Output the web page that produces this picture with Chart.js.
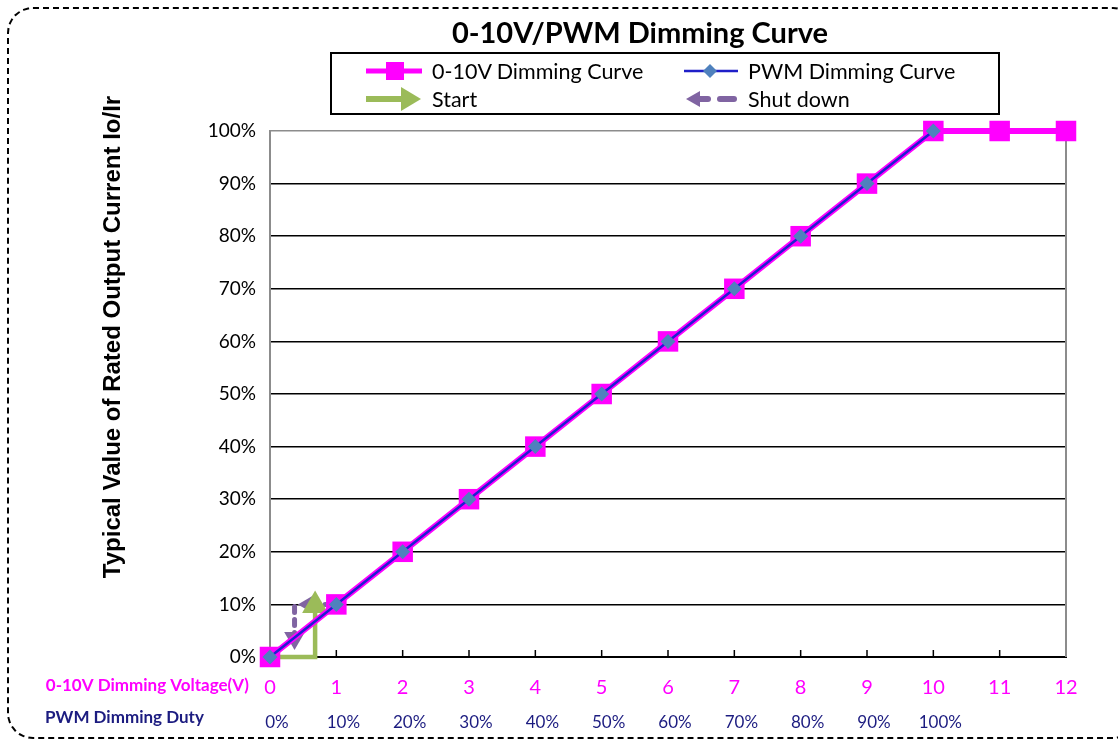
<!DOCTYPE html>
<html>
<head>
<meta charset="utf-8">
<script src="https://cdn.jsdelivr.net/npm/chart.js@4"></script>
<style>
  body { margin: 0; overflow: hidden; background: #fff; font-family: Lato, sans-serif; }
  #wrap { position: relative; width: 1118px; height: 740px; overflow: hidden; }
  #frame { position: absolute; left: 7px; top: 7px; width: 1128px; height: 728px;
           border: 2px dashed #000; border-radius: 26px; }
  #title { position: absolute; left: 340px; width: 600px; top: 14px; text-align: center;
           font: bold 29px Lato, sans-serif; color: #000; }
  #legend { position: absolute; left: 330px; top: 52px; width: 666px; height: 59px;
            border: 2px solid #000; font: 21.5px Lato, sans-serif; color: #000; }
  .item { position: absolute; display: flex; align-items: center; height: 28px; }
  .item svg { margin-right: 8px; }
  canvas { position: absolute; left: 0; top: 0; }
</style>
</head>
<body>
<div id="wrap">
  <canvas id="myCanvas" width="1118" height="740"></canvas>
  <div id="frame"></div>
  <div id="title">0-10V/PWM Dimming Curve</div>
  <div id="legend">
    <div class="item" style="left:32px;top:3px">
      <svg width="60" height="24"><line x1="2" y1="12" x2="58" y2="12" stroke="#FF00FF" stroke-width="5"/><rect x="22" y="3" width="18" height="18" fill="#FF00FF"/></svg>
      <span>0-10V Dimming Curve</span>
    </div>
    <div class="item" style="left:350px;top:3px">
      <svg width="58" height="24"><line x1="2" y1="12" x2="56" y2="12" stroke="#1F1FC8" stroke-width="2.5"/><polygon points="28,5 35,12 28,19 21,12" fill="#4F81BD"/></svg>
      <span>PWM Dimming Curve</span>
    </div>
    <div class="item" style="left:32px;top:31px">
      <svg width="60" height="26"><line x1="2" y1="13" x2="40" y2="13" stroke="#9BBB59" stroke-width="6"/><polygon points="37,1 57,13 37,25" fill="#9BBB59"/></svg>
      <span>Start</span>
    </div>
    <div class="item" style="left:350px;top:31px">
      <svg width="58" height="24"><polygon points="4,12 18,4 18,20" fill="#8064A2"/><line x1="17" y1="12" x2="26" y2="12" stroke="#8064A2" stroke-width="6" stroke-linecap="round"/><line x1="38" y1="12" x2="52" y2="12" stroke="#8064A2" stroke-width="6" stroke-linecap="round"/></svg>
      <span>Shut down</span>
    </div>
  </div>
</div>
<script>
// data
let voltage = [0, 1, 2, 3, 4, 5, 6, 7, 8, 9, 10, 11, 12]
let current010 = [0, 10, 20, 30, 40, 50, 60, 70, 80, 90, 100, 100, 100]
let pwmDuty = [0, 1, 2, 3, 4, 5, 6, 7, 8, 9, 10]   // position on the voltage axis
let pwmCurrent = [0, 10, 20, 30, 40, 50, 60, 70, 80, 90, 100]
let dutyLabels = ["0%", "10%", "20%", "30%", "40%", "50%", "60%", "70%", "80%", "90%", "100%"]

// start / shut down arrows (x in volts, y in %)
let startX = [0, 0.68, 0.68]
let startY = [0, 0, 9.8]
let shutHX = [0.92, 0.6]
let shutHY = [10, 10]
let shutVX = [0.37, 0.37]
let shutVY = [9.6, 3.6]

const pink = "#FF00FF"
const navy = "#1C1C80"

function pts(xs, ys) {
  return xs.map((v, i) => ({ x: v, y: ys[i] }))
}
function headOnly(n, r) {
  return Array.from({ length: n }, (_, i) => (i === n - 1 ? r : 0))
}

const extras = {
  id: "extras",
  beforeDatasetsDraw(chart) {
    const { ctx, chartArea: a, scales: { x } } = chart
    ctx.save()
    ctx.strokeStyle = "#8C8C8C"
    ctx.lineWidth = 2
    ctx.beginPath()
    ctx.moveTo(a.right, a.top)
    ctx.lineTo(a.right, a.bottom)
    ctx.stroke()
    ctx.strokeStyle = "#000"
    ctx.lineWidth = 1.5
    voltage.forEach(v => {
      if (v === 0 || v === 12) return
      let px = x.getPixelForValue(v)
      ctx.beginPath()
      ctx.moveTo(px, a.bottom)
      ctx.lineTo(px, a.bottom - 7)
      ctx.stroke()
    })
    ctx.restore()
  },
  afterDraw(chart) {
    const { ctx } = chart
    ctx.save()
    ctx.textBaseline = "middle"
    ctx.font = "bold 17px Lato"
    ctx.fillStyle = pink
    ctx.textAlign = "right"
    ctx.fillText("0-10V Dimming Voltage(V)", 249, 686)
    ctx.fillStyle = navy
    ctx.textAlign = "left"
    ctx.fillText("PWM Dimming Duty", 45, 718)
    ctx.translate(113, 337)
    ctx.rotate(-Math.PI / 2)
    ctx.textAlign = "center"
    ctx.fillStyle = "#000"
    ctx.font = "bold 24px 'Liberation Sans'"
    ctx.fillText("Typical Value of Rated Output Current Io/Ir", 0, 0)
    ctx.restore()
  }
}

creaGrafico()

function creaGrafico() {
  let myCanvas = document.querySelector("#myCanvas").getContext("2d")

  new Chart(myCanvas, {
    type: "line",
    data: {
      datasets: [
        {
          label: "PWM Dimming Curve",
          data: pts(pwmDuty, pwmCurrent),
          borderColor: "#1F1FD0",
          borderWidth: 2.5,
          pointStyle: "rectRot",
          pointRadius: 7.5,
          pointBackgroundColor: "#4F81BD",
          pointBorderWidth: 0,
          clip: false,
        },
        {
          label: "0-10V Dimming Curve",
          data: pts(voltage, current010),
          borderColor: pink,
          borderWidth: 6,
          pointStyle: "rect",
          pointRadius: 14.5,
          pointBackgroundColor: pink,
          pointBorderWidth: 0,
          clip: false,
        },
        {
          label: "Start",
          data: pts(startX, startY),
          borderColor: "#9BBB59",
          borderWidth: 4.5,
          pointStyle: "triangle",
          pointRadius: headOnly(startX.length, 15),
          pointBackgroundColor: "#9BBB59",
          pointBorderWidth: 0,
          clip: false,
        },
        {
          label: "Shut down H",
          data: pts(shutHX, shutHY),
          borderColor: "#8064A2",
          borderWidth: 5,
          borderDash: [6, 7],
          borderCapStyle: "round",
          pointStyle: "triangle",
          pointRotation: -90,
          pointRadius: headOnly(shutHX.length, 12),
          pointBackgroundColor: "#8064A2",
          pointBorderWidth: 0,
          clip: false,
        },
        {
          label: "Shut down V",
          data: pts(shutVX, shutVY),
          borderColor: "#8064A2",
          borderWidth: 5,
          borderDash: [6, 7],
          borderCapStyle: "round",
          pointStyle: "triangle",
          pointRotation: 180,
          pointRadius: headOnly(shutVX.length, 12),
          pointBackgroundColor: "#8064A2",
          pointBorderWidth: 0,
          clip: false,
        },
      ],
    },
    options: {
      responsive: false,
      animation: false,
      devicePixelRatio: 1,
      layout: { padding: { left: 0, right: 52, top: 131, bottom: 0 } },
      plugins: {
        legend: { display: false },
        title: { display: false },
        tooltip: { enabled: false },
      },
      scales: {
        x: {
          type: "linear",
          position: "bottom",
          min: 0,
          max: 12,
          afterFit: s => { s.height = 44 },
          grid: { display: false },
          border: { color: "#000", width: 2 },
          ticks: {
            stepSize: 1,
            autoSkip: false,
            maxRotation: 0,
            padding: 11,
            color: pink,
            font: { family: "Lato", size: 20 },
          },
        },
        x2: {
          type: "linear",
          position: "bottom",
          min: 0,
          max: 12,
          afterFit: s => { s.height = 39 },
          grid: { display: false },
          border: { display: false },
          ticks: {
            stepSize: 1,
            autoSkip: false,
            maxRotation: 0,
            padding: 3,
            labelOffset: 7,
            color: navy,
            font: { family: "Lato", size: 17 },
            callback: v => (dutyLabels[v] !== undefined ? dutyLabels[v] : ""),
          },
        },
        y: {
          min: 0,
          max: 100,
          afterFit: s => { s.width = 270 },
          border: { color: "#8C8C8C", width: 2 },
          grid: {
            drawTicks: false,
            lineWidth: 1.5,
            color: c => (c.tick.value === 100 ? "#8C8C8C" : "#000"),
          },
          ticks: {
            stepSize: 10,
            padding: 14,
            color: "#000",
            font: { family: "Lato", size: 19 },
            callback: v => v + "%",
          },
        },
      },
    },
    plugins: [extras],
  })
}
</script>
</body>
</html>
